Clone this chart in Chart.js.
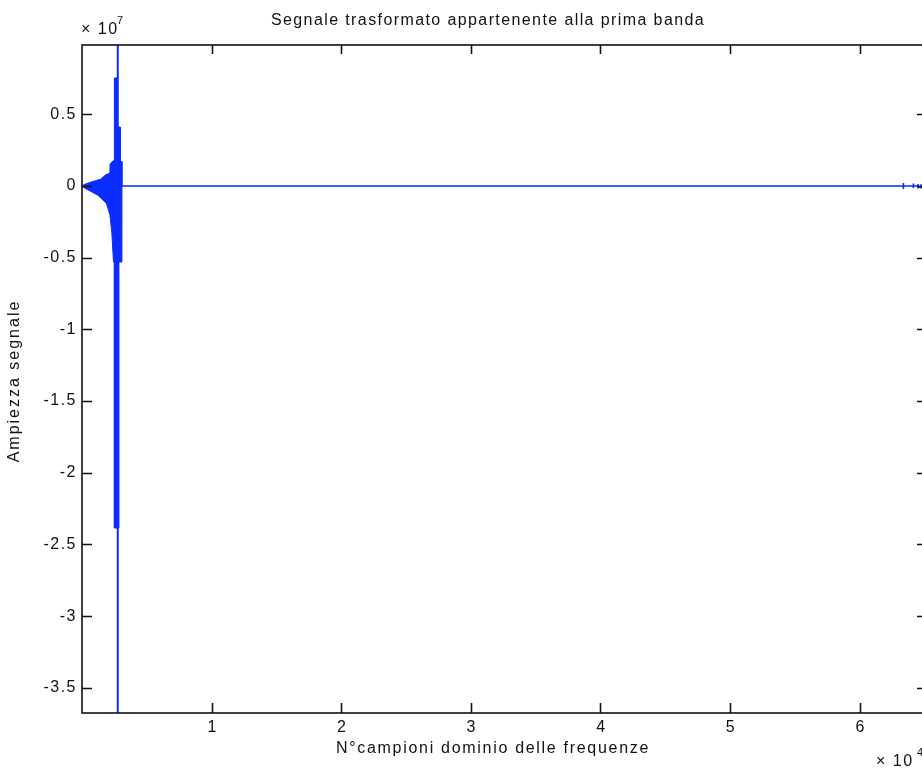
<!DOCTYPE html>
<html>
<head>
<meta charset="utf-8">
<script src="https://cdn.jsdelivr.net/npm/chart.js@4/dist/chart.umd.min.js"></script>
<style>
  html, body { margin: 0; padding: 0; background: #fff; overflow: hidden; }
  canvas { display: block; }
</style>
</head>
<body>
<canvas id="bandChart" width="940" height="769"></canvas>
<script>
  // Amplitudes are in units of 10^7, sample indices are raw counts.
  const sampleTicks = [10000, 20000, 30000, 40000, 50000, 60000];
  const sampleTickLabels = ["1", "2", "3", "4", "5", "6"];
  const ampTicks = [0.5, 0, -0.5, -1, -1.5, -2, -2.5, -3, -3.5];
  const ampTickLabels = ["0.5", "0", "-0.5", "-1", "-1.5", "-2", "-2.5", "-3", "-3.5"];

  const sampleMin = 0;
  const sampleMax = 65200;
  const ampMin = -3.675;
  const ampMax = 0.983;

  // upper / lower envelope of the oscillating burst before the main spike
  const burstUpperX = [0, 170, 660, 1430, 1820, 2150, 2170, 2400, 2500, 2500, 2740, 2740, 2950, 2950, 3080, 3080];
  const burstUpperY = [0, 0.010, 0.026, 0.047, 0.077, 0.090, 0.153, 0.176, 0.176, 0.753, 0.753, 0.411, 0.411, 0.170, 0.170, 0];
  const burstLowerX = [0, 190, 1200, 1870, 2150, 2300, 2430, 2500, 2500, 2850, 2850, 3080, 3080];
  const burstLowerY = [0, -0.014, -0.063, -0.119, -0.200, -0.321, -0.530, -0.530, -2.385, -2.385, -0.530, -0.530, 0];

  // the single full-scale spike
  const spikeX = [2760, 2760];
  const spikeY = [0.983, -3.675];

  // flat trace after the burst, with the small blips at the end of the band
  const traceX = [3080, 63380, 63380, 63380, 63380, 64150, 64150, 64150, 64150, 64520, 64520, 64520, 64750, 64750, 64750, 65200];
  const traceY = [0, 0, 0.021, -0.021, 0, 0, 0.018, -0.015, 0, 0, 0.014, -0.012, 0, 0.012, -0.012, 0];

  const BLUE = "#0a2cff";
  const INK = "#111";
  const FAMILY = '"Liberation Sans", Arial, sans-serif';

  const zip = (xs, ys) => xs.map((x, i) => ({ x, y: ys[i] }));

  // MATLAB-style box: inward ticks on all four sides, labels and exponents
  const matlabAxes = {
    id: "matlabAxes",
    afterDraw(chart) {
      const { ctx, chartArea: a, scales } = chart;
      const sx = scales.x;
      const sy = scales.y;
      ctx.save();
      ctx.strokeStyle = INK;
      ctx.fillStyle = INK;
      ctx.lineWidth = 1.6;
      ctx.strokeRect(a.left, a.top, a.right - a.left, a.bottom - a.top);

      ctx.beginPath();
      sampleTicks.forEach((v) => {
        const px = Math.round(sx.getPixelForValue(v)) + 0.5;
        ctx.moveTo(px, a.bottom); ctx.lineTo(px, a.bottom - 10);
        ctx.moveTo(px, a.top); ctx.lineTo(px, a.top + 9);
      });
      ampTicks.forEach((v) => {
        const py = Math.round(sy.getPixelForValue(v)) + 0.5;
        ctx.moveTo(a.left, py); ctx.lineTo(a.left + 10, py);
        ctx.moveTo(a.right, py); ctx.lineTo(a.right - 10, py);
      });
      ctx.stroke();

      ctx.font = "16px " + FAMILY;
      ctx.letterSpacing = "1.5px";
      ctx.textBaseline = "middle";
      ctx.textAlign = "right";
      ampTicks.forEach((v, i) => {
        ctx.fillText(ampTickLabels[i], a.left - 5, sy.getPixelForValue(v));
      });
      ctx.textAlign = "center";
      ctx.textBaseline = "top";
      sampleTicks.forEach((v, i) => {
        ctx.fillText(sampleTickLabels[i], sx.getPixelForValue(v) + 1, a.bottom + 7);
      });

      // exponent markers
      ctx.textAlign = "left";
      ctx.textBaseline = "alphabetic";
      ctx.fillText("\u00d7 10", 81, 34);
      ctx.fillText("\u00d7 10", 876, 766);
      ctx.font = "11px " + FAMILY;
      ctx.fillText("7", 117, 24);
      ctx.fillText("4", 917, 756);

      // title and axis titles
      ctx.font = "16px " + FAMILY;
      ctx.textAlign = "center";
      ctx.textBaseline = "middle";
      ctx.letterSpacing = "1.4px";
      ctx.fillText("Segnale trasformato appartenente alla prima banda", 488, 21);
      ctx.letterSpacing = "1.7px";
      ctx.fillText("N\u00b0campioni dominio delle frequenze", 493, 749);
      ctx.letterSpacing = "2px";
      ctx.translate(15, 381);
      ctx.rotate(-Math.PI / 2);
      ctx.fillText("Ampiezza segnale", 0, 0);
      ctx.restore();
    },
  };

  const area = { borderColor: BLUE, backgroundColor: BLUE, borderWidth: 1, pointRadius: 0, tension: 0, fill: "origin" };

  new Chart(document.getElementById("bandChart"), {
    type: "line",
    data: {
      datasets: [
        { ...area, label: "inviluppo sup", data: zip(burstUpperX, burstUpperY) },
        { ...area, label: "inviluppo inf", data: zip(burstLowerX, burstLowerY) },
        { label: "picco", data: zip(spikeX, spikeY), borderColor: BLUE, borderWidth: 2, pointRadius: 0, fill: false },
        { label: "segnale", data: zip(traceX, traceY), borderColor: BLUE, borderWidth: 1.6, pointRadius: 0, fill: false },
      ],
    },
    options: {
      responsive: false,
      animation: false,
      devicePixelRatio: 1,
      layout: { padding: { left: 82, right: 13, top: 45, bottom: 56 } },
      plugins: { legend: { display: false }, tooltip: { enabled: false }, title: { display: false } },
      scales: {
        x: { type: "linear", min: sampleMin, max: sampleMax, display: false },
        y: { type: "linear", min: ampMin, max: ampMax, display: false },
      },
    },
    plugins: [matlabAxes],
  });
</script>
</body>
</html>
